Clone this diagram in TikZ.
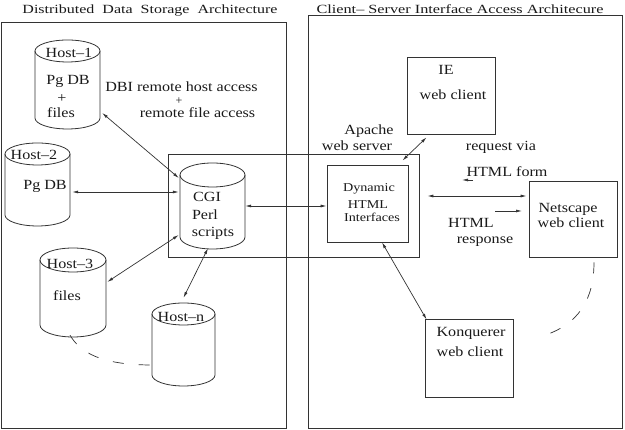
\documentclass[tikz,border=0pt]{standalone}
\usepackage{fontspec}
\usepackage{graphicx}
\setmainfont{Liberation Serif}
\usetikzlibrary{arrows.meta,calc}
\newcommand\sx[2]{\scalebox{#1}[1]{#2}}
\newcommand\dbcyl[6]{%
  \pgfmathsetmacro\cylh{#4-#5+#6}%
  \pgfmathsetmacro\cylcy{(#4+#5-#6)/2}%
  \node[cylnode, minimum width=2*#3, minimum height=\cylh] (#1) at (#2,\cylcy) {};
  \draw[ln] (#2-#3,#4-#6) -- (#2-#3,#5) arc[start angle=180,end angle=360,x radius=#3,y radius=#6] -- (#2+#3,#4-#6);
  \draw[ln] (#2,#4-#6) ellipse[x radius=#3, y radius=#6];
}
\begin{document}
\begin{tikzpicture}[x=1pt,y=1pt,
  ln/.style={draw=black!80, line width=0.8pt},
  cylnode/.style={draw=none, inner sep=0pt},
  boxnode/.style={ln, inner sep=0pt},
  txt/.style={inner sep=0pt, text height=9.5pt, text depth=0pt, font=\fontsize{14}{16}\selectfont, text=black!90},
  plus/.style={inner sep=0pt, text height=6pt, text depth=0pt, font=\fontsize{12}{13}\selectfont, text=black!90},
  sml/.style={inner sep=0pt, text height=8pt, text depth=0pt, font=\fontsize{12}{14}\selectfont, text=black!90},
  ttl/.style={inner sep=0pt, text height=8.5pt, text depth=0pt, font=\fontsize{12.5}{14}\selectfont, text=black!90},
  biarr/.style={ln, line width=0.7pt, {Latex[length=6pt,width=3pt]}-{Latex[length=6pt,width=3pt]}},
  arr/.style={ln, line width=0.7pt, -{Latex[length=6pt,width=3pt]}},
  dsh/.style={ln, line width=0.7pt, dash pattern=on 11pt off 15pt}
]
\useasboundingbox (0,0) rectangle (625,430);
% panels
\node[boxnode, minimum width=285, minimum height=406] (lpanel) at (143.5,205) {};
\node[boxnode, minimum width=314, minimum height=413] (rpanel) at (465,208.5) {};
\node[boxnode, minimum width=251, minimum height=103] (apache) at (293.5,224.5) {};
% titles
\node[ttl] (tl) at (150,421) {\sx{1.28}{Distributed\ \ Data\ \ Storage\ \ Architecture}};
\node[ttl] (tr) at (460,421) {\sx{1.3}{Client-- Server Interface Access Architecure}};
% cylinders
\dbcyl{h1}{67.5}{32.5}{390}{312}{11}
\dbcyl{h2}{37.5}{32.5}{287}{215}{11}
\dbcyl{cgi}{212.5}{32.5}{267}{193}{12}
\dbcyl{h3}{73}{33}{182}{105}{12}
\dbcyl{hn}{183.5}{31.5}{127}{55}{11}
% cylinder texts
\node[txt] (h1a) at (69,377) {\sx{1.15}{Host--1}};
\node[txt] (h1b) at (68,350) {\sx{1.15}{Pg DB}};
\node[txt] (h1c) at (62,332) {\sx{1.15}{+}};
\node[txt] (h1d) at (61,317) {\sx{1.15}{files}};
\node[txt] (h2a) at (34,275) {\sx{1.15}{Host--2}};
\node[txt] (h2b) at (45,245) {\sx{1.15}{Pg DB}};
\node[txt] (cga) at (207,233) {\sx{1.15}{CGI}};
\node[txt] (cgb) at (205,215) {\sx{1.15}{Perl}};
\node[txt] (cgc) at (213,198) {\sx{1.15}{scripts}};
\node[txt] (h3a) at (70,166) {\sx{1.15}{Host--3}};
\node[txt] (h3b) at (67,134) {\sx{1.15}{files}};
\node[txt] (hna) at (181,113) {\sx{1.15}{Host--n}};
% DBI label
\node[txt] (dbi1) at (181.5,343) {\sx{1.15}{DBI remote host access}};
\node[plus] (dbi2) at (179,328.5) {+};
\node[txt] (dbi3) at (197.5,317) {\sx{1.15}{remote file access}};
% right boxes
\node[boxnode, minimum width=81, minimum height=77] (dyn) at (367.5,226.5) {};
\node[boxnode, minimum width=88, minimum height=77] (ie) at (451,334.5) {};
\node[boxnode, minimum width=88, minimum height=76] (ns) at (573,211) {};
\node[boxnode, minimum width=88, minimum height=78] (kq) at (469,72) {};
% right texts
\node[txt] (iea) at (446,360) {\sx{1.15}{IE}};
\node[txt] (ieb) at (453,335) {\sx{1.15}{web client}};
\node[txt] (apa) at (369,300) {\sx{1.15}{Apache}};
\node[txt] (apb) at (357,284) {\sx{1.15}{web server}};
\node[txt] (rq1) at (501,284) {\sx{1.15}{request via}};
\node[txt] (rq2) at (507,258) {\sx{1.15}{HTML form}};
\node[sml] (dya) at (369,242) {\sx{1.18}{Dynamic}};
\node[sml] (dyb) at (368,225) {\sx{1.18}{HTML}};
\node[sml] (dyc) at (372,212) {\sx{1.18}{Interfaces}};
\node[txt] (nsa) at (568,222) {\sx{1.15}{Netscape}};
\node[txt] (nsb) at (571,207) {\sx{1.15}{web client}};
\node[txt] (rs1) at (471,207) {\sx{1.15}{HTML}};
\node[txt] (rs2) at (485,191) {\sx{1.15}{response}};
\node[txt] (kqa) at (471,98) {\sx{1.15}{Konquerer}};
\node[txt] (kqb) at (470,78) {\sx{1.15}{web client}};
% connectors
\draw[biarr] ([shift={(2,-28.5)}]h1.east) -- ([shift={(-1,28)}]cgi.west);
\draw[biarr] ([shift={(2,-7.5)}]h2.east) -- ([shift={(-1,14)}]cgi.west);
\draw[biarr] ([shift={(-1,-29)}]cgi.west) -- ([shift={(1,10.5)}]h3.east);
\draw[biarr] ([shift={(-4.5,1)}]cgi.south) -- ([shift={(0,5)}]hn.north);
\draw[biarr] (cgi.east) -- (cgi.east -| dyn.west);
\draw[biarr] ([shift={(-6,4)}]dyn.north east) -- ([shift={(20,-3)}]ie.south west);
\draw[biarr] ([shift={(8,9.5)}]apache.east) -- ([shift={(-2,23)}]ns.west);
\draw[biarr] ([shift={(14.5,0)}]dyn.south) -- ([shift={(2,-1)}]kq.north west);
\coordinate (fa1) at (473,250);
\coordinate (fa2) at (462,250);
\draw[arr] (fa1) -- (fa2);
\coordinate (ra1) at (495,219);
\coordinate (ra2) at (522,219);
\draw[arr] (ra1) -- (ra2);
\draw[dsh] ([shift={(21,-5)}]ns.south) .. controls (594,130) and (578,105) .. ([shift={(29,22)}]kq.east);
\draw[dsh] ([shift={(-3,2)}]h3.south) .. controls (80,78) and (100,65) .. ([shift={(0,-20.5)}]hn.west);
\end{tikzpicture}
\end{document}
